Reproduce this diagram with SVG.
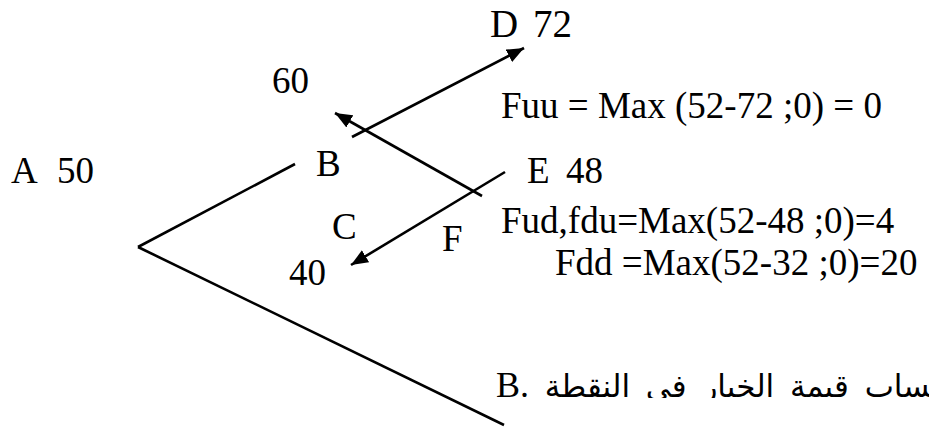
<svg xmlns="http://www.w3.org/2000/svg" width="929" height="428" viewBox="0 0 929 428">
<style>
text{font-family:"Liberation Serif","Times New Roman",serif;font-size:37px;fill:#000}
.ar{font-family:"DejaVu Sans","Noto Sans",sans-serif;font-size:31px;word-spacing:6px}
.lat{font-family:"Liberation Serif","Times New Roman",serif;font-size:36px}
.ln{stroke:#000;stroke-width:2.6;fill:none;stroke-linecap:butt}
</style>
<defs>
<marker id="ah" markerUnits="userSpaceOnUse" markerWidth="18" markerHeight="14" refX="17" refY="7" orient="auto">
<path d="M0,0 L17,7 L0,14 z" fill="#000"/>
</marker>
<clipPath id="clipAr"><rect x="0" y="0" width="929" height="398"/></clipPath>
</defs>
<rect width="929" height="428" fill="#fff"/>
<g id="connectors">
<line class="ln" x1="138" y1="247" x2="295" y2="164"/>
<line class="ln" x1="138" y1="247" x2="504" y2="425"/>
<line class="ln" x1="352" y1="137" x2="524" y2="48" marker-end="url(#ah)"/>
<line class="ln" x1="482" y1="196" x2="335" y2="113" marker-end="url(#ah)"/>
<line class="ln" x1="505" y1="172" x2="351" y2="265" marker-end="url(#ah)"/>
</g>
<g id="nodeA"><text x="11" y="183">A</text><text x="57" y="183">50</text></g>
<g id="nodeB"><text x="316" y="176">B</text></g>
<g id="node60"><text x="272" y="93">60</text></g>
<g id="nodeD"><text x="490" y="37" style="font-size:39px">D</text><text x="533" y="37" style="font-size:39px">72</text></g>
<g id="nodeE"><text x="527" y="183">E</text><text x="566" y="183">48</text></g>
<g id="nodeC"><text x="332" y="239">C</text></g>
<g id="nodeF"><text x="442" y="251">F</text></g>
<g id="node40"><text x="289" y="285">40</text></g>
<g id="formulas">
<text x="501" y="118">Fuu = Max (52-72 ;0) = 0</text>
<text x="501" y="233">Fud,fdu=Max(52-48 ;0)=4</text>
<text x="555" y="275">Fdd =Max(52-32 ;0)=20</text>
</g>
<g id="caption" clip-path="url(#clipAr)">
<text class="ar" x="496" y="397" direction="rtl" text-anchor="end">حساب قيمة الخيار في النقطة <tspan class="lat">B.&#x200E;</tspan></text>
</g>
</svg>
